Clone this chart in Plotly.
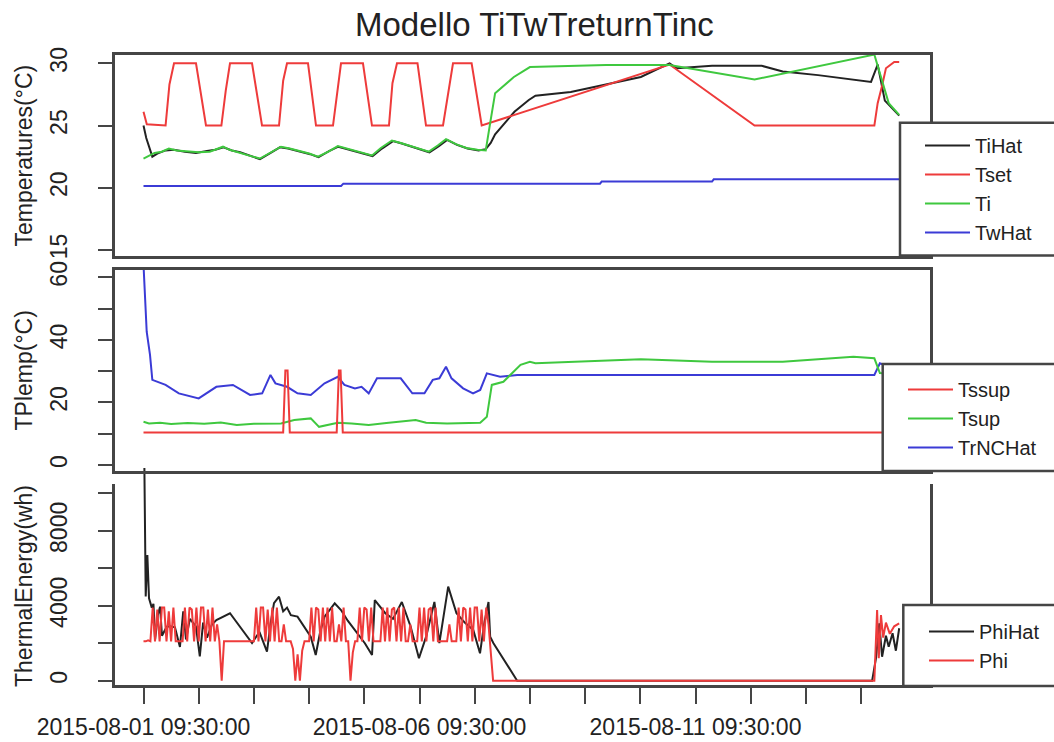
import pandas as pd
import plotly.graph_objects as go

T0 = pd.Timestamp("2015-08-01 09:30:00")

# ---------------- Panel 1: temperatures ----------------
tihat_days = [0.00, 0.05, 0.16, 0.25, 0.40, 0.55, 0.75, 0.95, 1.15, 1.30, 1.45, 1.60, 1.75, 1.95,
              2.11, 2.28, 2.47, 2.62, 2.80, 3.02, 3.17, 3.36, 3.53, 3.70, 3.85, 4.02, 4.15, 4.32,
              4.52, 4.68, 4.83, 5.02, 5.18, 5.35, 5.50, 5.68, 5.87, 6.07, 6.20, 6.29, 6.37, 6.72,
              6.98, 7.10, 7.74, 9.01, 9.53, 9.66, 10.30, 11.20, 11.58, 12.22, 13.18, 13.30, 13.43, 13.69]
tihat_vals = [25.0, 24.0, 22.5, 22.75, 23.0, 23.05, 22.9, 22.8, 22.95, 23.05, 23.25, 23.0, 22.85, 22.55,
              22.3, 22.75, 23.25, 23.15, 22.95, 22.7, 22.45, 22.95, 23.3, 23.1, 22.95, 22.75, 22.55, 23.15,
              23.75, 23.55, 23.35, 23.05, 22.85, 23.35, 23.85, 23.45, 23.15, 23.0, 23.1, 23.6, 24.3, 26.1,
              27.05, 27.4, 27.7, 28.9, 30.0, 29.6, 29.8, 29.8, 29.35, 29.05, 28.5, 29.9, 27.0, 25.8]

tset_days = [0.00, 0.06, 0.40, 0.47, 0.553, 0.951, 1.132, 1.411, 1.49, 1.567, 1.966, 2.147, 2.455,
             2.53, 2.600, 2.980, 3.125, 3.433, 3.578, 3.976, 4.139, 4.447, 4.51, 4.592, 4.964, 5.118,
             5.426, 5.607, 5.944, 6.127, 9.53, 11.07, 13.24, 13.30, 13.38, 13.45, 13.60, 13.69]
tset_vals = [26.1, 25.1, 25.0, 28.3, 30.0, 30.0, 25.0, 25.0, 27.8, 30.0, 30.0, 25.0, 25.0,
             28.6, 30.0, 30.0, 25.0, 25.0, 30.0, 30.0, 25.0, 25.0, 28.4, 30.0, 30.0, 25.0,
             25.0, 30.0, 30.0, 25.0, 29.9, 25.0, 25.0, 26.8, 28.2, 29.6, 30.1, 30.1]

ti_days = [0.00, 0.10, 0.20, 0.33, 0.46, 0.60, 0.83, 1.00, 1.20, 1.33, 1.44, 1.56, 1.69, 1.90,
           2.11, 2.30, 2.49, 2.65, 2.78, 3.00, 3.16, 3.35, 3.52, 3.68, 3.83, 4.00, 4.14, 4.30,
           4.50, 4.66, 4.81, 5.00, 5.17, 5.33, 5.48, 5.66, 5.85, 6.05, 6.20, 6.28, 6.37, 6.71,
           7.00, 8.38, 9.53, 11.07, 13.18, 13.24, 13.34, 13.50, 13.69]
ti_vals = [22.35, 22.6, 22.8, 22.9, 23.15, 23.0, 22.9, 22.85, 22.9, 23.1, 23.3, 23.05, 22.9, 22.6,
           22.35, 22.8, 23.3, 23.15, 23.0, 22.75, 22.5, 22.9, 23.35, 23.15, 23.0, 22.8, 22.6, 23.2,
           23.8, 23.6, 23.4, 23.1, 22.9, 23.4, 23.9, 23.5, 23.2, 23.05, 23.0, 25.2, 27.6, 28.9,
           29.7, 29.86, 29.86, 28.7, 30.65, 30.7, 29.2, 26.8, 25.85]

twhat_days = [0.00, 3.58, 3.62, 8.27, 8.30, 10.30, 10.33, 13.69]
twhat_vals = [20.15, 20.15, 20.33, 20.33, 20.5, 20.5, 20.68, 20.68]

# ---------------- Panel 2: supply / return temperatures ----------------
tssup_days = [0.00, 2.53, 2.57, 2.61, 2.65, 3.50, 3.54, 3.57, 3.61, 13.69]
tssup_vals = [10.4, 10.4, 30.2, 30.2, 10.4, 10.4, 30.2, 30.2, 10.4, 10.4]

tsup_days = [0.00, 0.10, 0.30, 0.50, 0.80, 1.10, 1.40, 1.69, 2.00, 2.30, 2.49, 2.73, 3.03, 3.18,
             3.52, 3.77, 4.08, 4.40, 4.93, 5.12, 5.50, 6.10, 6.22, 6.31, 6.52, 6.83, 7.00, 7.10,
             7.74, 9.01, 10.30, 11.58, 12.86, 13.24, 13.34, 13.69]
tsup_vals = [13.8, 13.3, 13.5, 13.1, 13.4, 13.2, 13.6, 12.8, 13.2, 13.3, 13.3, 14.4, 14.9, 12.2,
             13.5, 13.3, 12.8, 13.4, 14.4, 13.5, 13.3, 13.5, 15.4, 25.6, 26.6, 32.0, 33.0, 32.5,
             33.0, 33.8, 33.0, 33.0, 34.6, 34.1, 29.4, 29.0]

trnchat_days = [0.00, 0.058, 0.118, 0.16, 0.40, 0.64, 1.00, 1.32, 1.62, 1.93, 2.15, 2.30, 2.39,
                2.60, 2.79, 3.03, 3.28, 3.52, 3.64, 3.83, 3.95, 4.08, 4.23, 4.44, 4.66, 4.87,
                5.09, 5.24, 5.36, 5.48, 5.58, 5.79, 5.97, 6.10, 6.22, 6.46, 6.77, 7.00, 13.24,
                13.34, 13.69]
trnchat_vals = [64.0, 42.6, 35.2, 27.2, 25.6, 22.9, 21.3, 25.0, 25.6, 22.4, 22.9, 28.8, 26.1,
                25.0, 22.9, 22.4, 26.1, 28.2, 25.6, 24.5, 25.0, 22.9, 27.7, 27.7, 27.7, 22.9,
                22.9, 27.2, 27.7, 31.4, 27.7, 24.5, 22.9, 24.0, 29.3, 28.2, 28.8, 28.8, 28.8,
                32.5, 30.0]

# ---------------- Panel 3: thermal energy ----------------
phihat_days = [0.00, 0.04, 0.07, 0.09, 0.10, 0.15, 0.18, 0.21, 0.26, 0.30, 0.335, 0.42, 0.48,
               0.57, 0.66, 0.72, 0.77, 0.84, 0.95, 1.02, 1.08, 1.15, 1.24, 1.32, 1.44, 1.567,
               1.966, 2.10, 2.237, 2.30, 2.364, 2.455, 2.53, 2.60, 2.67, 2.79, 3.03, 3.12, 3.20,
               3.28, 3.464, 3.578, 3.70, 3.83, 4.01, 4.14, 4.19, 4.38, 4.52, 4.68, 4.84, 4.99,
               5.12, 5.27, 5.36, 5.52, 5.67, 5.82, 5.975, 6.096, 6.17, 6.25, 6.28, 6.34, 6.77,
               13.20, 13.27, 13.33, 13.38, 13.45, 13.50, 13.57, 13.63, 13.69]
phihat_vals = [16000, 4500, 6700, 5500, 4400, 3900, 4100, 2200, 3500, 3950, 2400, 2880, 2900,
               2850, 1800, 3700, 2200, 3300, 2900, 1300, 3100, 2300, 3000, 3240, 3400, 3600,
               2010, 2600, 1550, 3000, 4140, 4480, 3700, 3900, 3500, 3420, 2350, 1370, 2600,
               3420, 4130, 3770, 3200, 2700, 2000, 1370, 4300, 3600, 3300, 4200, 2880, 1200,
               2350, 4200, 2000, 5020, 3600, 3100, 2700, 1460, 3000, 4200, 2350, 2000, 0,
               0, 1200, 3060, 1280, 2400, 1810, 2530, 1600, 2800]

# hourly Phi readings from 2015-08-01 09:30 (first 153 hours)
phi_hourly = [2100, 2100, 2150, 2100,
              3900, 2100, 3800, 2100, 3900, 3900, 2100, 3700, 2100, 3900,
              2100, 2100, 2100, 2100,
              3900, 2100, 3900, 3800, 2100, 3900, 2100, 3900, 3900, 2100, 3800, 2100, 3900,
              2100, 3000, 2100,
              0,
              2100, 2100, 2100, 2100, 2100, 2100, 2100, 2100, 2100, 2100, 2100, 2100, 2100, 2100,
              3900, 2100, 3900, 3900, 2100, 3800, 2100, 3900, 2100, 3900,
              2100, 2100, 3000, 2100, 2100, 2100,
              1700, 0, 1400, 0, 1600, 2100,
              2100, 2100,
              3900, 2100, 3900, 3800, 2100, 3900, 2100, 3900, 2100,
              3900, 2100, 2100, 3000, 2100, 3900, 2100, 2100,
              0,
              1500, 2100, 2100,
              3900, 2100, 3900, 3800, 2100, 3900, 2100,
              2100, 2100, 2100,
              3900, 2100, 3900, 2100, 3800, 3900, 2100, 3900, 2100, 3900,
              2100, 2100, 3000, 2100, 2100, 2100, 3900,
              2100, 3900, 2100, 3800, 3900, 2100, 3900, 2100,
              2100, 2100, 2100, 2100, 3000, 2100, 2100, 2100,
              3900, 2100, 3900, 3800, 2100, 3900, 2100, 3900, 3900, 2100, 3800, 2100, 3900,
              3000, 1500, 0]
phi_tail_days = [13.24, 13.29, 13.32, 13.36, 13.40, 13.45, 13.52, 13.60, 13.69]
phi_tail_vals = [0, 3770, 1200, 3500, 2300, 3100, 2500, 2900, 3060]

x_tick_days = list(range(14))
x_label_every = 5

# ---------------- helpers / layout constants ----------------
W, H = 1054, 742
FONT = "Liberation Sans, Arial, sans-serif"
BLACK, RED, GREEN, BLUE = "#222222", "#ee3b3b", "#3fc83f", "#3b3bd6"
FRAME = "#454545"


def tt(days):
    return [T0 + pd.Timedelta(days=d) for d in days]


def fx(p):
    return p / W


def fy(p):
    return 1 - p / H


phi_days = [h / 24 for h in range(len(phi_hourly))] + phi_tail_days
phi_vals = phi_hourly + phi_tail_vals

fig = go.Figure()
LW = 2

# panel 1
for name, d, v, c in [("TiHat", tihat_days, tihat_vals, BLACK), ("Tset", tset_days, tset_vals, RED),
                      ("Ti", ti_days, ti_vals, GREEN), ("TwHat", twhat_days, twhat_vals, BLUE)]:
    fig.add_trace(go.Scatter(x=tt(d), y=v, mode="lines", name=name, line=dict(color=c, width=LW),
                             xaxis="x2", yaxis="y", legend="legend"))
# panel 2 (drawn blue, green, red so red spikes on top)
for name, d, v, c in [("TrNCHat", trnchat_days, trnchat_vals, BLUE), ("Tsup", tsup_days, tsup_vals, GREEN),
                      ("Tssup", tssup_days, tssup_vals, RED)]:
    fig.add_trace(go.Scatter(x=tt(d), y=v, mode="lines", name=name, line=dict(color=c, width=LW),
                             xaxis="x3", yaxis="y2", legend="legend2"))
# panel 3 frame subplot (empty trace so the subplot exists)
fig.add_trace(go.Scatter(x=[], y=[], mode="lines", showlegend=False, hoverinfo="skip",
                         xaxis="x", yaxis="y3"))
fig.add_trace(go.Scatter(x=tt(phihat_days), y=phihat_vals, mode="lines", name="PhiHat",
                         line=dict(color=BLACK, width=LW), xaxis="x", yaxis="y4", legend="legend3"))
fig.add_trace(go.Scatter(x=tt(phi_days), y=phi_vals, mode="lines", name="Phi",
                         line=dict(color=RED, width=2), xaxis="x", yaxis="y4", legend="legend3"))

xr = [T0 + pd.Timedelta(days=-0.5163), T0 + pd.Timedelta(days=14.2482)]
xdom = [fx(115), fx(930)]
tickvals = tt(x_tick_days)
ticktext = [t.strftime("%Y-%m-%d %H:%M:%S") if k % x_label_every == 0 else "" for k, t in zip(x_tick_days, tickvals)]

frame = dict(showline=True, linecolor=FRAME, linewidth=2.5, mirror=True, showgrid=False, zeroline=False)
tickfont = dict(family=FONT, size=23, color="#222")
ytick = dict(ticks="outside", ticklen=14, tickwidth=2, tickcolor=FRAME, tickangle=-90, tickfont=tickfont,
             ticklabelstandoff=22)

fig.update_layout(
    width=W, height=H, paper_bgcolor="white", plot_bgcolor="white",
    margin=dict(l=0, r=0, t=0, b=0, autoexpand=False),
    showlegend=True,
    xaxis=dict(domain=xdom, range=xr, anchor="y3", tickmode="array", tickvals=tickvals, ticktext=ticktext,
               ticks="outside", ticklen=16, tickwidth=2, tickcolor=FRAME, tickangle=0, tickfont=tickfont,
               ticklabelstandoff=4, **frame),
    xaxis2=dict(domain=xdom, range=xr, anchor="y", showticklabels=False, ticks="", **frame),
    xaxis3=dict(domain=xdom, range=xr, anchor="y2", showticklabels=False, ticks="", **frame),
    yaxis=dict(domain=[fy(256), fy(55)], range=[14.518, 30.667], anchor="x2", tickmode="array",
               tickvals=[15, 20, 25, 30], ticktext=["15", "20", "25", "30"], **ytick, **frame),
    yaxis2=dict(domain=[fy(471), fy(270)], range=[-1.918, 62.33], anchor="x3", tickmode="array",
                tickvals=[0, 10, 20, 30, 40, 50, 60], ticktext=["0", "", "20", "", "40", "", "60"],
                **ytick, **frame),
    yaxis3=dict(domain=[fy(685), fy(487.3)], range=[-229.5, 10320], anchor="x", tickmode="array",
                tickvals=[0, 2000, 4000, 6000, 8000, 10000], ticktext=["0", "", "4000", "", "8000", ""],
                **ytick, **frame),
    yaxis4=dict(domain=[fy(685), fy(468)], range=[-229.5, 11350], anchor="x", visible=False,
                showgrid=False, zeroline=False),
)

leg_common = dict(bgcolor="rgba(0,0,0,0)", borderwidth=0, font=dict(family=FONT, size=20, color="#222"),
                  itemwidth=45, xanchor="left", yanchor="top", tracegroupgap=0)
fig.update_layout(
    legend=dict(x=fx(920), y=fy(126), **leg_common),
    legend2=dict(x=fx(903), y=fy(370), traceorder="reversed", **leg_common),
    legend3=dict(x=fx(924), y=fy(612), **leg_common),
)

# legend frames (R-style boxes, running off the right edge of the picture)
for (l, t, b) in [(900, 122.7, 255.5), (882.7, 364, 471), (903.3, 605, 686)]:
    fig.add_shape(type="path", xref="paper", yref="paper",
                  path=f"M {fx(1300)},{fy(t)} L {fx(l)},{fy(t)} L {fx(l)},{fy(b)} L {fx(1300)},{fy(b)} Z",
                  line=dict(color=FRAME, width=2.5), fillcolor="white", layer="above")

# title
fig.add_annotation(text="Modello TiTwTreturnTinc", xref="paper", yref="paper", x=fx(534), y=fy(24),
                   showarrow=False, font=dict(family=FONT, size=33, color="#222"),
                   xanchor="center", yanchor="middle")
# y axis titles
for txt, yc in [("Temperatures(°C)", 155.5), ("TPlemp(°C)", 370.5), ("ThermalEnergy(wh)", 586)]:
    fig.add_annotation(text=txt, xref="paper", yref="paper", x=fx(24), y=fy(yc), textangle=-90,
                       showarrow=False, font=dict(family=FONT, size=23, color="#222"),
                       xanchor="center", yanchor="middle")

# the page's default body margin would shift the figure by 8px; remove it
fig.write_html("out.html", config={"displayModeBar": False},
               post_script="document.body.style.margin='0';")
